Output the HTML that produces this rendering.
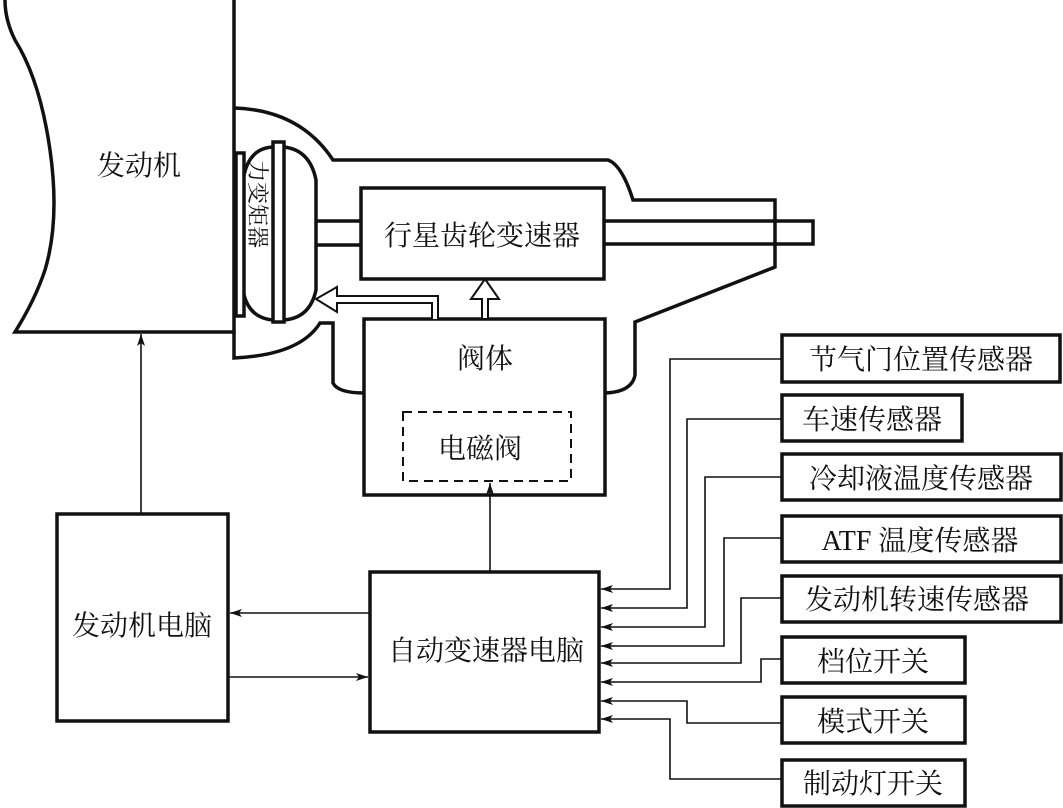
<!DOCTYPE html>
<html><head><meta charset="utf-8"><style>
html,body{margin:0;padding:0;background:#fff;}
svg{display:block;}
text{font-family:"Liberation Serif","Noto Serif CJK SC","Noto Sans CJK SC",serif;fill:#111;}
</style></head><body>
<svg width="1063" height="808" viewBox="0 0 1063 808" xmlns="http://www.w3.org/2000/svg">
<defs>
<marker id="a" viewBox="0 0 12 8" refX="12" refY="4" markerWidth="12" markerHeight="8" markerUnits="userSpaceOnUse" orient="auto">
<path d="M0,0 L12,4 L0,8 L3,4 Z" fill="#111"/></marker>
</defs>
<g fill="none" stroke="#111" stroke-width="3.5">
<!-- engine -->
<path d="M234,0 L234,332 L15,332 Q35,300 45,270 Q60,220 50,150 Q40,80 15,40 Q5,20 5,0"/>
<!-- housing -->
<path d="M234,108 Q300,110 333,160 L608,160 Q622,165 633,200 L775,200 L775,267 L635,322 L635,375 Q632,392 605,393"/>
<path d="M234,332 L234,358 Q300,355 320,323 L333,323 L333,383 Q338,393 364,393"/>
<!-- torque converter -->
<rect x="236" y="153" width="8" height="163"/>
<rect x="273" y="142" width="11" height="180"/>
<path d="M244,175 Q250,148 273,147 M284,147 Q310,150 316,180 L316,290 Q310,318 284,320 M273,320 Q250,318 244,295"/>
<!-- shafts -->
<path d="M316,221 L361,221 M316,245 L361,245"/>
<path d="M604,221 L813,221 L813,244 L604,244"/>
<rect x="361" y="188" width="243" height="91"/>
<rect x="364" y="319" width="241" height="176"/>
<!-- ECUs -->
<rect x="57" y="514" width="171" height="207"/>
<rect x="370" y="572" width="229" height="160"/>
<!-- sensor boxes -->
<rect x="782" y="335" width="278" height="47"/>
<rect x="782" y="395" width="180" height="46"/>
<rect x="782" y="454" width="279" height="46"/>
<rect x="782" y="516" width="279" height="46"/>
<rect x="782" y="576" width="279" height="46"/>
<rect x="782" y="637" width="183" height="46"/>
<rect x="782" y="697" width="183" height="46"/>
<rect x="782" y="760" width="183" height="46"/>
</g>
<!-- hollow arrows -->
<g fill="#fff" stroke="#111" stroke-width="2">
<path d="M482,319 L482,299 L471,299 L485,279 L499,299 L488,299 L488,319 Z"/>
<path d="M438,319 L438,296 L337,296 L337,287 L316,299 L337,312 L337,303 L432,303 L432,319"/>
</g>
<rect x="403" y="412" width="168" height="69" fill="none" stroke="#111" stroke-width="2" stroke-dasharray="9,6"/>
<!-- connectors -->
<g fill="none" stroke="#111" stroke-width="1.6">
<path d="M141,514 L141,334" marker-end="url(#a)"/>
<path d="M490,572 L490,483" marker-end="url(#a)"/>
<path d="M370,613 L230,613" marker-end="url(#a)"/>
<path d="M228,677 L368,677" marker-end="url(#a)"/>
<path d="M782,359 L670,359 L670,589 L601,589" marker-end="url(#a)"/>
<path d="M782,419 L687,419 L687,608 L601,608" marker-end="url(#a)"/>
<path d="M782,477 L705,477 L705,627 L601,627" marker-end="url(#a)"/>
<path d="M782,538 L724,538 L724,646 L601,646" marker-end="url(#a)"/>
<path d="M782,598 L741,598 L741,663 L601,663" marker-end="url(#a)"/>
<path d="M782,659 L761,659 L761,682 L601,682" marker-end="url(#a)"/>
<path d="M782,723 L687,723 L687,701 L601,701" marker-end="url(#a)"/>
<path d="M782,779 L670,779 L670,719 L601,719" marker-end="url(#a)"/>
</g>
<!-- text -->
<g font-size="28">
<text x="139" y="175" text-anchor="middle">发动机</text>
<text x="482" y="245" text-anchor="middle">行星齿轮变速器</text>
<text x="485" y="368" text-anchor="middle">阀体</text>
<text x="480" y="458" text-anchor="middle">电磁阀</text>
<text x="142" y="635" text-anchor="middle">发动机电脑</text>
<text x="486" y="660" text-anchor="middle">自动变速器电脑</text>
<text x="921" y="369" text-anchor="middle">节气门位置传感器</text>
<text x="872" y="429" text-anchor="middle">车速传感器</text>
<text x="921" y="488" text-anchor="middle">冷却液温度传感器</text>
<text x="920" y="550" text-anchor="middle">ATF 温度传感器</text>
<text x="917" y="609" text-anchor="middle">发动机转速传感器</text>
<text x="873" y="671" text-anchor="middle">档位开关</text>
<text x="873" y="731" text-anchor="middle">模式开关</text>
<text x="873" y="793" text-anchor="middle">制动灯开关</text>
</g>
<text font-size="22" transform="translate(250,160) rotate(90)" x="0" y="0">力变矩器</text>
</svg>
</body></html>
